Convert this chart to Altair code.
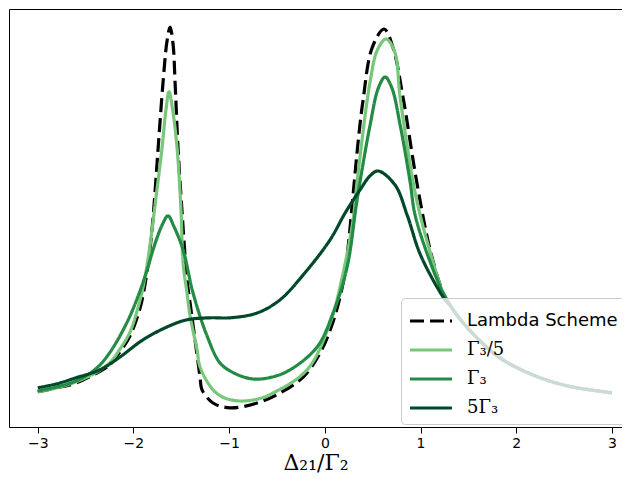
import altair as alt
import pandas as pd

series_names = ["Lambda Scheme", "Γ₃/5", "Γ₃", "5Γ₃"]
colors = ["#000000", "#78c67a", "#238b45", "#00482a"]
dashes = [[14, 6], [1, 0], [1, 0], [1, 0]]

lambda_x = [-3.0, -2.8, -2.6, -2.4, -2.25, -2.14, -2.035, -1.93, -1.88, -1.83, -1.795, -1.743, -1.69,
            -1.65, -1.617, -1.585, -1.565, -1.534, -1.492, -1.44, -1.408, -1.335, -1.304, -1.283,
            -1.168, -0.99, -0.708, -0.468, -0.227, -0.05, 0.086, 0.191, 0.24, 0.295, 0.35, 0.40,
            0.494, 0.619, 0.713, 0.818, 0.96, 1.10, 1.236, 1.309, 1.414, 1.591, 1.832, 2.177, 2.532,
            3.0]
lambda_y = [0.088, 0.098, 0.110, 0.133, 0.155, 0.188, 0.228, 0.298, 0.355, 0.438, 0.523, 0.693,
            0.863, 0.963, 1.000, 0.955, 0.863, 0.698, 0.538, 0.368, 0.310, 0.180, 0.125, 0.093,
            0.060, 0.048, 0.060, 0.085, 0.125, 0.185, 0.263, 0.360, 0.443, 0.580, 0.718, 0.818,
            0.948, 0.995, 0.948, 0.823, 0.613, 0.443, 0.335, 0.305, 0.270, 0.223, 0.173, 0.130,
            0.103, 0.085]

light_x = [-3.0, -2.8, -2.6, -2.4, -2.25, -2.14, -2.035, -1.93, -1.88, -1.83, -1.774, -1.701,
           -1.66, -1.628, -1.59, -1.544, -1.502, -1.481, -1.44, -1.408, -1.335, -1.304, -1.168,
           -1.05, -0.886, -0.7, -0.541, -0.185, 0.055, 0.191, 0.295, 0.337, 0.473, 0.55, 0.64,
           0.73, 0.787, 0.922, 0.996, 1.10, 1.236, 1.309, 1.414, 1.591, 1.832, 2.177, 2.532, 3.0]
light_y = [0.088, 0.098, 0.113, 0.135, 0.160, 0.195, 0.238, 0.318, 0.373, 0.448, 0.555, 0.698,
           0.793, 0.838, 0.793, 0.698, 0.538, 0.410, 0.335, 0.278, 0.193, 0.150, 0.093,
           0.073, 0.065, 0.070, 0.085, 0.143, 0.260, 0.385, 0.518, 0.613, 0.863, 0.943, 0.970,
           0.938, 0.823, 0.613, 0.530, 0.438, 0.335, 0.305, 0.270, 0.223, 0.173, 0.130, 0.103,
           0.085]

mid_x = [-3.0, -2.8, -2.6, -2.45, -2.35, -2.25, -2.14, -2.035, -1.931, -1.85, -1.795, -1.7, -1.638,
         -1.58, -1.481, -1.377, -1.231, -1.095, -0.95, -0.75, -0.55, -0.363, -0.081, 0.086, 0.233,
         0.337, 0.473, 0.56, 0.63, 0.70, 0.787, 0.891, 0.943, 1.10, 1.236, 1.309, 1.414, 1.591,
         1.832, 2.177, 2.532, 3.0]
mid_y = [0.090, 0.100, 0.115, 0.135, 0.155, 0.185, 0.228, 0.278, 0.340, 0.398, 0.443, 0.505, 0.528,
         0.503, 0.443, 0.335, 0.228, 0.160, 0.135, 0.120, 0.125, 0.143, 0.200, 0.285, 0.400,
         0.568, 0.755, 0.848, 0.875, 0.848, 0.755, 0.613, 0.530, 0.413, 0.335, 0.305, 0.270,
         0.223, 0.173, 0.130, 0.103, 0.085]

dark_x = [-3.0, -2.8, -2.6, -2.35, -2.14, -1.9, -1.65, -1.44, -1.2, -0.99, -0.708, -0.468, -0.227,
          0.055, 0.212, 0.368, 0.473, 0.557, 0.734, 0.86, 1.0, 1.236, 1.309, 1.414, 1.591, 1.832,
          2.177, 2.532, 3.0]
dark_y = [0.098, 0.108, 0.123, 0.143, 0.175, 0.218, 0.250, 0.268, 0.273, 0.273, 0.285, 0.318, 0.380,
          0.468, 0.535, 0.593, 0.628, 0.640, 0.605, 0.530, 0.430, 0.325, 0.303, 0.269, 0.222, 0.172,
          0.130, 0.103, 0.086]

rows = []
for name, xs, ys in zip(series_names, [lambda_x, light_x, mid_x, dark_x],
                        [lambda_y, light_y, mid_y, dark_y]):
    for xv, yv in zip(xs, ys):
        rows.append({"series": name, "x": xv, "y": yv})
df = pd.DataFrame(rows)

xscale = alt.Scale(domain=[-3.3, 3.105], nice=False, zero=False)
yscale = alt.Scale(domain=[0, 1.045], nice=False, zero=False)
cscale = alt.Scale(domain=series_names, range=colors)
dscale = alt.Scale(domain=series_names, range=dashes)

legend = alt.Legend(
    orient="none", legendX=392, legendY=289, title=None,
    symbolType="M-1.5,0L1.5,0", symbolSize=784, symbolStrokeWidth=3.2,
    labelFontSize=18, labelColor="black",
    labelFont={"expr": "datum.label == 'Lambda Scheme' ? 'DejaVu Sans' : 'DejaVu Serif'"},
    fillColor="rgba(255,255,255,0.8)", strokeColor="#cccccc", cornerRadius=4,
    padding=7, rowPadding=4, labelOffset=20, symbolOffset=7,
)

bottom_axis = alt.Axis(values=[-3, -2, -1, 0, 1, 2, 3], format="d", tickSize=6, tickColor="black",
                       domainColor="black", labelFont="DejaVu Sans", labelFontSize=14,
                       labelColor="black", labelPadding=3, title="Δ₂₁/Γ₂",
                       titleFont="DejaVu Serif", titleFontSize=22, titleFontWeight="normal",
                       titleColor="black", titlePadding=2, grid=False)
top_axis = alt.Axis(orient="top", labels=False, ticks=False, grid=False, title=None,
                    domainColor="black")
left_axis = alt.Axis(labels=False, ticks=False, grid=False, title=None, domainColor="black")


def layer(name, xaxis, yaxis):
    return alt.Chart(df).transform_filter(alt.datum.series == name).mark_line(
        interpolate="catmull-rom", strokeWidth=3.2
    ).encode(
        x=alt.X("x:Q", scale=xscale, axis=xaxis),
        y=alt.Y("y:Q", scale=yscale, axis=yaxis),
        color=alt.Color("series:N", scale=cscale, legend=legend),
        strokeDash=alt.StrokeDash("series:N", scale=dscale, legend=legend),
    )


chart = alt.layer(
    layer(series_names[0], bottom_axis, left_axis),
    layer(series_names[1], top_axis, None),
    layer(series_names[2], None, None),
    layer(series_names[3], None, None),
).resolve_axis(x="independent", y="independent").properties(
    width=613, height=418,
    autosize=alt.AutoSizeParams(type="none"),
    padding={"left": 1, "top": 1, "right": 0, "bottom": 50},
    background="white",
).configure_view(stroke=None)

chart.save("out.html", embed_options={"renderer": "svg", "actions": False})
